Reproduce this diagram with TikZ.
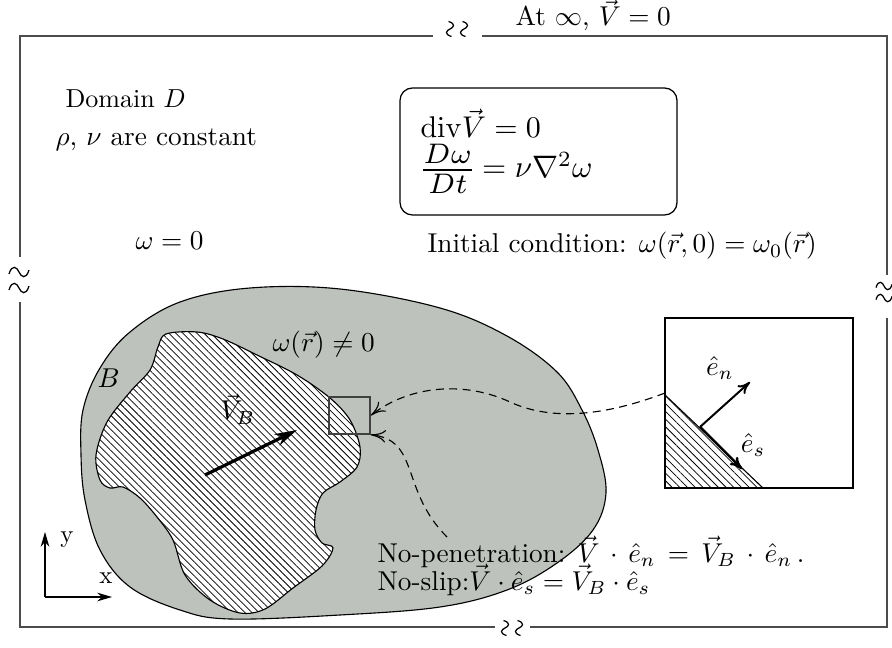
\documentclass[tikz,border=0pt]{standalone}
\usepackage{amsmath}
\usetikzlibrary{arrows.meta,patterns.meta}
\definecolor{blobgray}{RGB}{189,194,188}
\begin{document}
\begin{tikzpicture}[x=0.4035pt,y=-0.4035pt,
  frame/.style={draw=black!70, line width=0.7pt},
  lbl/.style={inner sep=0pt, anchor=base west, scale=1.05},
  mlbl/.style={inner sep=0pt, anchor=base west, scale=1.1},
  dashconn/.style={dash pattern=on 3.2pt off 2.2pt, line width=0.45pt, -{To[length=6pt,width=5pt]}},
  unitvec/.style={line width=0.8pt, -{To[length=5pt,width=4.5pt]}},
  axis/.style={line width=0.45pt, -{Stealth[length=6pt,width=3.5pt]}},
  hatchA/.style={pattern={Lines[angle=-45,distance=2pt,line width=0.3pt]}, preaction={fill=white}},
  hatchB/.style={pattern={Lines[angle=-45,distance=2.2pt,line width=0.3pt]}, preaction={fill=white}},
  wave/.pic={\draw[line width=0.5pt] (-10,2) .. controls (-7,-8) and (-2,-5) .. (0,0) .. controls (2,5) and (7,8) .. (10,-2);}
]
\useasboundingbox (0,0) rectangle (892,648);

% outer frame with breaks
\draw[frame] (433,36) -- (20,36) -- (20,257);
\draw[frame] (20,302) -- (20,627) -- (495,627);
\draw[frame] (530,627) -- (887,627) -- (887,318);
\draw[frame] (887,275) -- (887,36) -- (482,36);
\pic at (19,272) {wave};
\pic at (19,288) {wave};
\pic[rotate=90,scale=0.75] at (450,29) {wave};
\pic[rotate=90,scale=0.75] at (464,29) {wave};
\pic[rotate=90,scale=0.75] at (505,628) {wave};
\pic[rotate=90,scale=0.75] at (519,628) {wave};
\pic[scale=0.8] at (884,286) {wave};
\pic[scale=0.8] at (884,298) {wave};

\node[mlbl] (inf) at (515,26) {At $\infty$, $\vec{V}=0$};

% outer region
\draw[fill=blobgray, line width=0.45pt] plot[smooth cycle, tension=0.6] coordinates {
 (83,410) (100,368) (130,332) (180,302) (250,288) (340,289) (440,308) (507,336)
 (557,372) (582,410) (598,450) (606,493) (593,530) (557,563) (507,590) (440,607)
 (340,615) (230,619) (180,610) (130,587) (100,550) (85,500) (81,455)};

% body
\path[hatchA, draw=black, line width=0.45pt] plot[smooth cycle, tension=0.55] coordinates {
 (158,347) (166,334) (197,332) (223,339) (257,355) (297,375) (330,398) (350,420)
 (360,447) (357,467) (340,482) (323,493) (316,510) (315,530) (322,543) (333,548)
 (322,566) (293,588) (265,609) (240,613) (210,600) (185,575) (173,540) (157,517)
 (140,498) (123,487) (110,488) (100,480) (96,455) (107,422) (130,392) (150,370)};

% small square
\node[draw=black!75, line width=0.6pt, inner sep=0pt, minimum width={41*0.4035pt}, minimum height={37*0.4035pt}] (sq) at (349.5,415.5) {};

% zoom box
\path[hatchB] (665,395) -- (763,488) -- (665,488) -- cycle;
\draw[line width=0.45pt] (665,395) -- (763,488);
\node[draw, line width=0.5pt, inner sep=0pt, minimum width={188*0.4035pt}, minimum height={170*0.4035pt}] (zoom) at (759,403) {};
\coordinate (o) at (700,427);
\coordinate (en) at (750,382);
\coordinate (es) at (742,469);
\draw[unitvec] (o) -- (en);
\draw[unitvec, line width=1pt] (o) -- (es);
\node[scale=1.1] (enl) at (720,368) {$\hat e_n$};
\node[scale=1.1] (esl) at (753,445) {$\hat e_s$};

% dashed connectors
\coordinate (zin) at (665,393);
\draw[dashconn] (zin) .. controls (620,410) and (560,425) .. (510,402) .. controls (465,381) and (410,385) .. (sq.east);
\coordinate (np) at (447,537);
\draw[dashconn] (np) .. controls (400,490) and (420,440) .. (sq.south east);

% velocity of body
\coordinate (vb0) at (205,475);
\coordinate (vb1) at (297,430);
\draw[line width=1.3pt, -{Stealth[length=9pt,width=5pt]}] (vb0) -- (vb1);

% axes
\coordinate (ax) at (45,597);
\coordinate (ay) at (45,532);
\coordinate (axx) at (112,597);
\draw[axis] (ax) -- (ay);
\draw[axis] (ax) -- (axx);
\node (ylab) at (67,540) {y};
\node (xlab) at (106,578) {x};

% texts
\node[lbl] (dom) at (65,108) {Domain $D$};
\node[mlbl] (rho) at (55,146) {$\rho$, $\nu$ are constant};
\node[draw, rounded corners=5pt, line width=0.5pt, minimum width={277*0.4035pt}, minimum height={127*0.4035pt}] (eqbox) at (538.5,151.5) {};
\node[mlbl, scale=1.1] (div) at (420,138) {$\mathrm{div}\vec V=0$};
\node[mlbl, scale=1.14] (ns) at (418,178) {\raisebox{-0.6pt}{\scalebox{1.3}{$\frac{D\omega}{Dt}$}}$\,=\nu\nabla^2\omega$};
\node[mlbl] (w0) at (135,250) {$\omega=0$};
\node[mlbl] (ic) at (427,253) {Initial condition: $\omega(\vec r,0)=\omega_0(\vec r)$};
\node[mlbl] (wr) at (272,352) {$\omega(\vec r)\neq 0$};
\node[mlbl] (B) at (97,388) {$B$};
\node[mlbl] (VB) at (220,420) {$\vec V_B$};
\node[mlbl] (nopen) at (377,562) {No-penetration: $\vec V\,\cdot\,\hat e_n\,=\,\vec V_B\,\cdot\,\hat e_n$\,.};
\node[mlbl] (noslip) at (377,590) {No-slip:$\vec V\cdot\hat e_s=\vec V_B\cdot\hat e_s$};
\end{tikzpicture}
\end{document}
